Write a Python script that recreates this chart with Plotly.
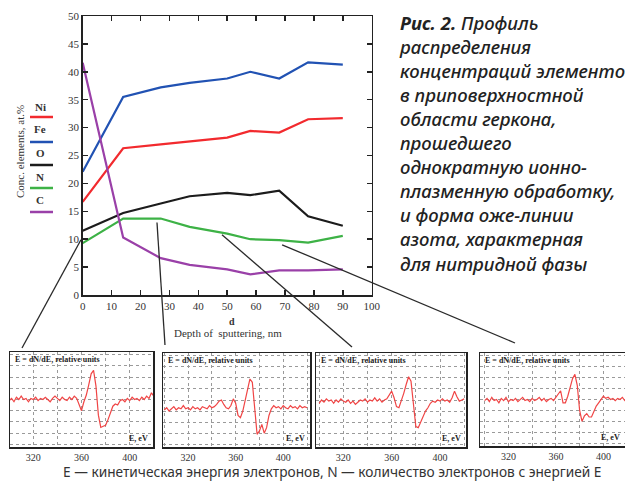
import plotly.graph_objects as go

W, H = 625, 483

# ---------------- main profile data ----------------
depth = [0, 14, 27, 37, 50, 58, 68, 78, 90]
series_names = ["Ni", "Fe", "O", "N", "C"]
Ni = [16.7, 26.3, 27.0, 27.5, 28.2, 29.4, 29.1, 31.5, 31.7]
Fe = [22.1, 35.5, 37.2, 38.0, 38.8, 40.0, 38.8, 41.7, 41.3]
O = [11.5, 14.7, 16.4, 17.7, 18.3, 17.9, 18.7, 14.1, 12.4]
N = [9.3, 13.7, 13.7, 12.2, 11.0, 10.0, 9.85, 9.4, 10.6]
C = [41.6, 10.3, 6.6, 5.4, 4.6, 3.7, 4.4, 4.4, 4.6]
series_values = [Ni, Fe, O, N, C]
series_colors = ["#f22a2e", "#2152b3", "#1c1c1c", "#3db246", "#9a40a8"]

x_ticks = list(range(0, 101, 10))
y_ticks = list(range(0, 51, 5))

# pointer origins (depth, conc) on the main plot
pointer_depth = [-0.6, 25.7, 48.2, 69.0]
pointer_conc = [9.9, 13.0, 10.8, 9.0]

# ---------------- Auger spectra (insets) ----------------
energy = list(range(300, 421, 2))
spec1 = [3.9, 4.1, 3.8, 4.2, 4.0, 4.3, 4.0, 4.1, 3.8, 4.1, 4.0, 4.2, 3.9, 4.1, 4.0, 4.2,
         4.0, 3.8, 4.1, 4.3, 4.1, 3.9, 4.2, 4.0, 3.9, 4.2, 4.0, 4.3, 4.1, 3.6, 3.0, 3.8,
         4.4, 5.3, 6.3, 6.6, 5.2, 2.6, 1.5, 1.6, 1.7, 2.2, 2.9, 3.4, 3.6, 3.5, 3.9, 4.0,
         3.8, 4.1, 3.9, 4.2, 4.0, 4.1, 3.9, 4.2, 4.0, 4.3, 4.1, 4.6, 4.3]
spec2 = [3.1, 3.3, 3.0, 3.2, 3.4, 3.1, 3.3, 3.2, 3.5, 3.2, 3.3, 3.1, 3.4, 3.2, 3.3, 3.1,
         3.4, 3.3, 3.2, 3.5, 3.3, 3.4, 3.6, 3.9, 4.0, 3.6, 3.3, 3.2, 3.5, 4.1, 3.7, 2.6,
         2.4, 3.0, 4.0, 5.0, 5.9, 5.6, 3.0, 0.9, 1.2, 1.8, 1.0, 1.5, 2.6, 3.2, 3.5, 3.3,
         3.4, 3.2, 3.5, 3.3, 3.2, 3.5, 3.3, 3.4, 3.2, 3.5, 3.3, 3.4, 3.3]
spec3 = [3.7, 4.0, 3.8, 4.1, 3.9, 4.0, 3.7, 4.0, 3.8, 4.1, 3.9, 3.8, 4.0, 3.7, 3.9, 3.6,
         3.8, 4.0, 3.9, 4.1, 3.8, 4.0, 3.9, 4.2, 3.9, 4.1, 3.8, 4.0, 4.1, 4.4, 4.8, 4.2,
         3.4, 3.3, 3.9, 4.6, 5.4, 6.1, 5.7, 3.8, 1.6, 1.5, 2.0, 2.6, 3.0, 3.3, 3.7, 3.9,
         3.8, 4.0, 3.9, 4.1, 3.9, 4.0, 3.8, 4.2, 4.8, 4.3, 3.9, 4.0, 4.1]
spec4 = [3.9, 4.1, 3.8, 4.2, 3.9, 4.0, 3.7, 4.1, 3.9, 4.2, 3.8, 4.0, 3.9, 4.1, 3.8, 4.0,
         4.2, 3.9, 4.0, 3.8, 4.1, 3.9, 4.0, 4.2, 3.9, 4.1, 3.8, 4.0, 4.1, 3.9, 4.2, 4.6,
         4.8, 3.7, 3.7, 4.3, 5.1, 5.9, 6.3, 5.3, 3.0, 2.0, 2.5, 2.7, 2.4, 2.4, 2.9, 3.4,
         3.7, 4.0, 4.3, 4.1, 4.2, 4.0, 4.1, 3.9, 4.1, 4.0, 4.2, 3.9, 4.0]
spectra = [spec1, spec2, spec3, spec4]
inset_ranges = [[300.7, 419.3], [298.9, 422.5], [297.4, 421.5], [296.1, 418.2]]
inset_tick_labels = [320, 360, 400]

caption_text = "Рис. 2."
caption_lines = ["Профиль", "распределения", "концентраций элементов", "в приповерхностной",
                 "области геркона,", "прошедшего", "однократную ионно-",
                 "плазменную обработку,", "и форма оже-линии", "азота, характерная",
                 "для нитридной фазы"]
footnote = "E — кинетическая энергия электронов, N — количество электронов с энергией E"

# ---------------- layout helpers ----------------
def px(x):
    return x / W


def py(y):
    return 1 - y / H


SERIF = "Liberation Serif, Times New Roman, serif"
SANS = "Noto Sans, Open Sans, sans-serif"

main_xdom = [px(82.7), px(371.7)]
main_ydom = [py(295), py(16)]

fig = go.Figure()

for name, vals, col in zip(series_names, series_values, series_colors):
    fig.add_trace(go.Scatter(x=depth, y=vals, mode="lines", name=name,
                             line=dict(color=col, width=2.2), xaxis="x", yaxis="y",
                             showlegend=False, hoverinfo="skip"))

# inset boxes in pixels: (left, right, top, bottom)
inset_boxes = [(10, 153, 352, 447), (163, 310, 353, 447), (316, 466, 353, 447), (480, 625, 353, 446)]

layout = dict(
    width=W, height=H, margin=dict(l=0, r=0, t=0, b=0, autoexpand=False),
    paper_bgcolor="white", plot_bgcolor="white", showlegend=False,
    xaxis=dict(domain=main_xdom, range=[0, 100], tickvals=x_ticks, ticks="inside",
               ticklen=5, tickwidth=1.5, tickcolor="#222", mirror="ticks", showline=True,
               linecolor="#222", linewidth=1.5, showgrid=False, zeroline=False,
               tickfont=dict(family=SERIF, size=11, color="#333"), anchor="y"),
    yaxis=dict(domain=main_ydom, range=[0, 50], tickvals=y_ticks, ticks="inside",
               ticklen=5, tickwidth=1.5, tickcolor="#222", mirror="ticks", showline=True,
               linecolor="#222", linewidth=1.5, showgrid=False, zeroline=False,
               tickfont=dict(family=SERIF, size=11, color="#333"), anchor="x"),
)

annotations = []
shapes = []


def note(text, x, y, size, family=SERIF, xanchor="center", yanchor="middle", color="#333", **kw):
    d = dict(text=text, xref="paper", yref="paper", x=x, y=y, xanchor=xanchor,
             yanchor=yanchor, showarrow=False, font=dict(family=family, size=size, color=color))
    d.update(kw)
    annotations.append(d)
    return d


for i, (spec, rng, box) in enumerate(zip(spectra, inset_ranges, inset_boxes)):
    k = i + 2
    l, r, t, b = box
    fig.add_trace(go.Scatter(x=energy, y=spec, mode="lines", line=dict(color="#f04545", width=1.2),
                             xaxis=f"x{k}", yaxis=f"y{k}", showlegend=False, hoverinfo="skip"))
    layout[f"xaxis{k}"] = dict(domain=[px(l), px(r)], range=rng, anchor=f"y{k}",
                               tickvals=inset_tick_labels, ticks="", showline=True,
                               mirror=True, linecolor="#222", linewidth=1.5,
                               showgrid=True, gridcolor="#9a9a9a", griddash="dot", gridwidth=1,
                               minor=dict(dtick=20, tick0=300, showgrid=True, gridcolor="#9a9a9a",
                                          griddash="dot", gridwidth=1),
                               zeroline=False,
                               tickfont=dict(family=SERIF, size=10, color="#333"))
    layout[f"yaxis{k}"] = dict(domain=[py(b), py(t)], range=[-0.25, 8.25], anchor=f"x{k}",
                               dtick=1, tick0=0, showticklabels=False, ticks="",
                               showline=True, mirror=(k != 5), linecolor="#222", linewidth=1.5,
                               showgrid=True, gridcolor="#9a9a9a", griddash="dot", gridwidth=1,
                               zeroline=False)
    annotations.append(dict(text="<b>E = dN/dE, relative units</b>", xref=f"x{k} domain",
                            yref=f"y{k} domain", x=0.02, y=0.985, xanchor="left", yanchor="top",
                            showarrow=False, font=dict(family=SERIF, size=8, color="#222")))
    ex = px(r - 3) if k != 5 else px(622)
    annotations.append(dict(text="<b>E, eV</b>", xref="paper", yref=f"y{k} domain",
                            x=ex, y=0.02, xanchor="right", yanchor="bottom",
                            showarrow=False, font=dict(family=SERIF, size=8, color="#222")))

# legend built from the series
legend_label_y = [107, 129, 153, 177, 200]
legend_line_y = [117, 142, 165, 188, 212]
for name, col, ly, lny in zip(series_names, series_colors, legend_label_y, legend_line_y):
    note(f"<b>{name}</b>", px(40), py(ly), 11)
    shapes.append(dict(type="line", xref="paper", yref="paper", x0=px(30), x1=px(53),
                       y0=py(lny), y1=py(lny), line=dict(color=col, width=2.5)))

# axis titles
note("Conc. elements, at.%", px(20), py(152), 11, textangle=-90)
note("<b>d</b>", px(232), py(321), 10)
note("Depth of  sputtering, nm", px(228), py(333), 11)

# pointer lines from the main plot to the insets
pointer_ends = [(22, 348), (165, 345), (352, 347), (515, 343)]
for d, c, (ex, ey) in zip(pointer_depth, pointer_conc, pointer_ends):
    x0 = main_xdom[0] + d / 100 * (main_xdom[1] - main_xdom[0])
    y0 = main_ydom[0] + c / 50 * (main_ydom[1] - main_ydom[0])
    shapes.append(dict(type="line", xref="paper", yref="paper", x0=x0, y0=y0, x1=px(ex), y1=py(ey),
                       line=dict(color="#2a2a2a", width=1.3)))

# caption text block (single multi-line annotation)
cap_size = 18.5
cap_all = [f"<b>{caption_text}</b> {caption_lines[0]}"] + caption_lines[1:]
block_mid = 23 + (len(cap_all) - 1) * cap_size * 1.3 / 2
a = note("<br>".join(cap_all), px(397), py(block_mid), cap_size, family=SANS,
         xanchor="left", yanchor="middle", color="#222", align="left")
a["font"]["style"] = "italic"
a["font"]["weight"] = 500

note(footnote, px(332), py(471), 13.7, family=SANS)

layout["annotations"] = annotations
layout["shapes"] = shapes
fig.update_layout(**layout)
fig.write_html("out.html", config={"displayModeBar": False, "staticPlot": True},
               post_script="document.body.style.margin='0px';")
